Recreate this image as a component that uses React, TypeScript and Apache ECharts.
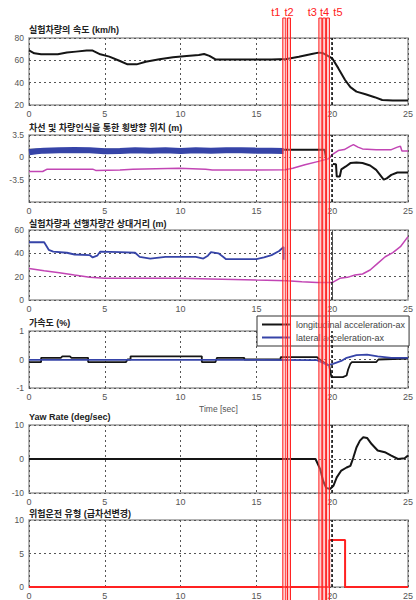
import React, { useEffect, useRef } from "react";
import * as echarts from "echarts";

// ---------- data ----------
const xTicks = [0, 5, 10, 15, 20, 25];

const titles = [
  "실험차량의 속도 (km/h)",
  "차선 및 차량인식을 통한 횡방향 위치 (m)",
  "실험차량과 선행차량간 상대거리 (m)",
  "가속도 (%)",
  "Yaw Rate (deg/sec)",
  "위험운전 유형 (급차선변경)",
];

const speedData = [
  [0, 69], [0.35, 66.3], [0.8, 65.4], [1.9, 65.4], [2.5, 67], [3.1, 67.8], [3.8, 68.7], [4.2, 68.7],
  [4.7, 65.4], [5.3, 63.3], [6, 59.4], [6.5, 56.4], [7.1, 56.4], [7.7, 58.8], [8.6, 61], [9.5, 62.7],
  [10.4, 63.9], [11.2, 64.8], [11.55, 65.7], [11.9, 64], [12.3, 60.8], [13, 60.8], [14, 60.8],
  [15, 60.8], [16, 60.8], [17, 61.2], [17.8, 63.3], [18.65, 65.7], [19.1, 66.9], [19.35, 66.6],
  [19.6, 64.8], [20, 61.8], [20.4, 53], [20.85, 42.4], [21.2, 36], [21.6, 32], [22.2, 29.6],
  [22.8, 27], [23.3, 24.5], [24, 24], [25, 24],
];

const laneBlue = [
  [0, 0.8], [0.5, 0.95], [1, 1.05], [2, 1.1], [3, 1.15], [4, 1.1], [5, 0.95], [6, 1.0], [7, 1.1],
  [8, 1.05], [9, 1.1], [10, 1.0], [11, 1.1], [12, 1.05], [13, 1.1], [14, 1.1], [15, 1.05],
  [16, 1.05], [16.8, 1.0],
];

const laneBlack = [
  [0, 1.2], [5, 1.2], [10, 1.2], [15, 1.2], [19.5, 1.2], [19.6, -0.2], [19.65, "-"],
  [20.05, -1.06], [20.25, -1.1], [20.3, -3.0], [20.5, -3.0], [20.6, -1.9], [20.9, -1.43],
  [21.2, -0.9], [21.6, -0.8], [22.0, -0.9], [22.5, -1.27], [22.9, -1.96], [23.4, -3.5],
  [23.6, -3.3], [23.9, -2.75], [24.3, -2.38], [25, -2.38],
];

const laneMagenta = [
  [0, -2.22], [0.9, -2.22], [1.2, -1.85], [4.2, -1.85], [4.4, -2.05], [6, -2.0], [6.85, -1.85],
  [9.9, -1.7], [11.65, -1.85], [12.1, -2.0], [16.9, -1.96], [17.4, -1.7], [18.2, -1.16],
  [19.1, -0.63], [19.75, -0.21], [20, 0.42], [20.4, 1.06], [20.8, 1.22], [21.2, 1.75],
  [21.4, 2.0], [21.7, 1.6], [22, 1.32], [22.9, 1.2], [23.9, 1.2], [24.3, 1.6], [24.5, 1.75],
  [24.6, 1.0], [25, 1.0],
];

const distBlue = [
  [0, 49.5], [1, 49.5], [1.3, 43], [1.6, 41.5], [2.5, 40.5], [3, 39], [4, 38.5], [4.2, 36.5],
  [4.5, 38], [4.7, 41.5], [6, 41], [7, 40.5], [7.3, 37], [8, 35.5], [9, 37], [10, 37], [11, 37],
  [11.5, 35.5], [11.8, 38], [12, 41], [12.5, 40], [12.8, 37], [13, 35], [15, 35], [15.5, 36.5],
  [16, 38.5], [16.5, 42], [16.8, 45.5], [16.8, 34.5],
];

const distMagenta = [
  [0, 27], [1, 25], [2, 23.4], [3, 21.4], [4, 19.5], [5, 18.6], [7, 18.6], [10, 18.6], [12, 18],
  [15, 17.1], [17, 16.6], [18, 15.7], [19, 14.9], [20, 14.9], [20.5, 18.6], [21, 19.4],
  [21.5, 21.4], [22, 22.3], [22.5, 25.7], [23, 31.4], [23.5, 37.1], [24, 40.6], [24.5, 45.7],
  [25, 54.3],
];

const accLong = [
  [0, -0.09], [0.8, -0.09], [0.8, 0.06], [2.1, 0.06], [2.2, 0.11], [2.7, 0.11], [2.8, 0.06],
  [3.9, 0.06], [3.9, -0.09], [6.4, -0.09], [6.5, 0], [6.7, 0], [6.7, 0.11], [11.4, 0.11],
  [11.4, -0.09], [12.3, -0.09], [12.4, 0.06], [14.2, 0.06], [14.2, 0], [16.6, 0], [16.6, 0.08],
  [19, 0.08], [19.3, -0.05], [19.6, -0.15], [19.8, -0.21], [19.95, -0.62], [20.7, -0.62],
  [20.95, -0.56], [21.05, -0.35], [21.2, -0.15], [21.3, -0.09], [22.9, -0.09], [23.05, 0],
  [25, 0.035],
];

const accLat = [
  [0, -0.01], [5, -0.01], [10, -0.01], [15, -0.01], [19, -0.02], [19.4, -0.12], [19.7, -0.2],
  [20.05, -0.15], [20.6, -0.05], [20.95, 0.06], [21.6, 0.15], [22.3, 0.17], [23.0, 0.11],
  [23.9, 0.06], [25, 0.06],
];

const yawRate = [
  [0, 0], [10, 0], [18.9, 0], [19.2, -2.9], [19.4, -6.4], [19.6, -8.5], [19.86, -8.8],
  [20.08, -7.9], [20.3, -5.4], [20.6, -3.4], [20.95, -2.5], [21.2, -2], [21.4, 0.5],
  [21.6, 3.4], [21.83, 5.4], [22.05, 6.4], [22.3, 6.2], [22.6, 4.4], [23.0, 2.5], [23.47, 2],
  [23.9, 1], [24.34, 0], [24.78, 0.2], [25, 1],
];

const riskType = [
  [0, 0], [19.8, 0], [19.8, 7], [20.85, 7], [20.85, 0], [25, 0],
];

const eventTimes = [16.84, 17.15, 19.22, 19.47, 19.72];
const eventLabels = ["t1", "t2", "t3", "t4", "t5"];
const eventLabelOffsets = [-8.5, 0, -8, 0.5, 10];

const legendNames = ["longitudinal acceleration-ax", "lateral acceleration-ax"];

// ---------- layout ----------
const grids = [
  { top: 38, height: 67, min: 20, max: 80, interval: 20 },
  { top: 135, height: 67, min: -7, max: 3.5, interval: 3.5 },
  { top: 230, height: 70, min: 0, max: 60, interval: 20 },
  { top: 331, height: 57, min: -1, max: 1, interval: 1 },
  { top: 425, height: 68, min: -10, max: 10, interval: 10 },
  { top: 520, height: 69, min: 0, max: 10, interval: 5 },
];
const titleCenters = [29.5, 128, 223.5, 322.5, 416.5, 513.5];

const FONT = "'Liberation Sans', 'Noto Sans CJK KR', sans-serif";
const BLACK = "#151515";
const BLUE = "#3644a8";
const MAGENTA = "#c245b4";
const RED = "#ff2121";

export default function App() {
  const ref = useRef<HTMLDivElement>(null);

  useEffect(() => {
    if (!ref.current) return;
    const chart = echarts.init(ref.current, undefined, { renderer: "svg" });

    const gridOpts = grids.map((g) => ({
      left: 29,
      right: 6,
      top: g.top,
      height: g.height,
      show: true,
      borderColor: "#9a9a9a",
      borderWidth: 1.5,
      backgroundColor: "transparent",
    }));

    const xAxes = grids.map((g, i) => ({
      type: "value",
      gridIndex: i,
      min: xTicks[0],
      max: xTicks[xTicks.length - 1],
      interval: xTicks[1] - xTicks[0],
      axisLine: { show: false },
      axisTick: { show: false },
      axisLabel: { fontSize: 9, color: "#555", margin: 4, fontFamily: FONT },
      splitLine: { show: true, lineStyle: { color: "#555", type: [2, 3], width: 1 } },
      name: i === 3 ? "Time [sec]" : "",
      nameLocation: "middle",
      nameGap: 17,
      nameTextStyle: { fontSize: 8.5, color: "#555", fontFamily: FONT },
    }));

    const yAxes = grids.map((g, i) => ({
      type: "value",
      gridIndex: i,
      min: g.min,
      max: g.max,
      interval: g.interval,
      axisLine: { show: false },
      axisTick: { show: false },
      axisLabel: {
        fontSize: 8.5,
        color: "#555",
        margin: 5,
        fontFamily: FONT,
        formatter: (v: number) => {
          if (i === 1 && v === -7) return "";
          return String(v);
        },
      },
      splitLine: { show: true, lineStyle: { color: "#555", type: [2, 3], width: 1 } },
    }));

    const mark20 = {
      silent: true,
      symbol: "none",
      label: { show: false },
      lineStyle: { color: "#111", type: [3, 2], width: 1.5 },
      data: [{ xAxis: 20 }],
    };

    const line = (name: string, data: any[], gi: number, color: string, width: number, extra: any = {}) => ({
      type: "line",
      name,
      data,
      xAxisIndex: gi,
      yAxisIndex: gi,
      showSymbol: false,
      symbol: "none",
      connectNulls: false,
      lineStyle: { color, width },
      itemStyle: { color },
      ...extra,
    });

    const series = [
      line("speed", speedData, 0, BLACK, 2, { markLine: mark20 }),
      line("laneBlack", laneBlack, 1, BLACK, 2, { markLine: mark20 }),
      line("laneBlue", laneBlue, 1, BLUE, 6),
      line("laneMagenta", laneMagenta, 1, MAGENTA, 1.5),
      line("distMagenta", distMagenta, 2, MAGENTA, 1.5, { markLine: mark20 }),
      line("distBlue", distBlue, 2, BLUE, 1.8),
      line(legendNames[0], accLong, 3, BLACK, 1.8, { markLine: mark20 }),
      line(legendNames[1], accLat, 3, BLUE, 1.8),
      line("yaw", yawRate, 4, BLACK, 2, { markLine: mark20 }),
      line("risk", riskType, 5, RED, 2, { markLine: mark20 }),
    ];

    const titleOpts = titles.map((t, i) => ({
      text: t,
      left: 29,
      top: titleCenters[i] - 6,
      padding: 0,
      textStyle: {
        fontSize: 9,
        fontWeight: "bold",
        color: "#222",
        lineHeight: 12,
        fontFamily: FONT,
      },
    }));

    chart.setOption({
      animation: false,
      backgroundColor: "#fff",
      textStyle: { fontFamily: FONT },
      title: titleOpts,
      grid: gridOpts,
      xAxis: xAxes,
      yAxis: yAxes,
      legend: {
        data: legendNames,
        orient: "vertical",
        left: 257,
        top: 316,
        padding: [4, 4, 4, 5],
        itemGap: 4,
        itemWidth: 29,
        itemHeight: 2,
        icon: "rect",
        backgroundColor: "#fff",
        borderColor: "#333",
        borderWidth: 1,
        borderRadius: 0,
        textStyle: { fontSize: 9, color: "#444", fontFamily: FONT },
      },
      series,
    });

    const graphics: any[] = [];
    eventTimes.forEach((t, i) => {
      const px = chart.convertToPixel({ xAxisIndex: 0 }, t) as number;
      graphics.push({
        type: "rect",
        z: 100,
        silent: true,
        shape: { x: px - 1.5, y: 18, width: 3, height: 600 },
        style: { fill: "rgba(255,150,150,0.45)", stroke: RED, lineWidth: 1 },
      });
      graphics.push({
        type: "text",
        z: 101,
        silent: true,
        x: px + eventLabelOffsets[i],
        y: 12,
        style: {
          text: eventLabels[i],
          fill: RED,
          font: `11px ${FONT}`,
          align: "center",
          verticalAlign: "middle",
        },
      });
    });
    chart.setOption({ graphic: graphics });

    return () => chart.dispose();
  }, []);

  return (
    <div
      ref={ref}
      style={{ position: "absolute", left: 0, top: 0, width: 416, height: 600, background: "#fff" }}
    />
  );
}
